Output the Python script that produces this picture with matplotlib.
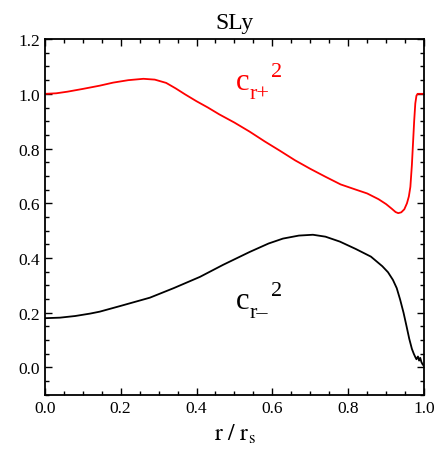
import numpy as np
import matplotlib
matplotlib.use('Agg')
import matplotlib.pyplot as plt
from matplotlib.ticker import MultipleLocator, FormatStrFormatter

# ===== DATA =====
r_plus = [0.00, 0.03, 0.06, 0.10, 0.145, 0.18, 0.22, 0.26, 0.29, 0.32, 0.345,
          0.37, 0.40, 0.43, 0.46, 0.50, 0.54, 0.58, 0.62, 0.66, 0.70, 0.74,
          0.78, 0.82, 0.85, 0.88, 0.90, 0.915, 0.925, 0.932, 0.940, 0.948,
          0.955, 0.960, 0.964, 0.968, 0.971, 0.974, 0.977, 0.980, 0.983, 1.00]
c2_plus = [1.000, 1.002, 1.008, 1.018, 1.030, 1.041, 1.050, 1.055, 1.052, 1.040, 1.020,
           0.998, 0.973, 0.950, 0.925, 0.895, 0.862, 0.826, 0.792, 0.757, 0.726, 0.697,
           0.669, 0.650, 0.636, 0.615, 0.597, 0.580, 0.568, 0.564, 0.567, 0.578,
           0.600, 0.625, 0.660, 0.740, 0.820, 0.900, 0.965, 0.993, 1.000, 1.000]

r_minus = [0.00, 0.04, 0.08, 0.12, 0.145, 0.20, 0.277, 0.34, 0.409, 0.47, 0.54,
           0.59, 0.628, 0.67, 0.707, 0.74, 0.778, 0.82, 0.86, 0.89, 0.905, 0.918,
           0.928, 0.937, 0.946, 0.954, 0.961, 0.968, 0.973, 0.977, 0.980, 0.984,
           0.987, 0.990, 0.993, 0.996, 1.00]
c2_minus = [0.180, 0.182, 0.188, 0.197, 0.204, 0.225, 0.255, 0.290, 0.331, 0.375, 0.422,
            0.453, 0.471, 0.482, 0.485, 0.478, 0.460, 0.433, 0.405, 0.370, 0.348, 0.320,
            0.290, 0.248, 0.200, 0.150, 0.105, 0.068, 0.050, 0.038, 0.030, 0.040,
            0.025, 0.035, 0.020, 0.012, 0.005]

title_text = "SLy"
xlabel_text = r"$\mathrm{r\ /\ r_s}$"
# (main, subscript, superscript, anchor x, anchor y, colour)
curve_labels = [("c", "r+", "2", 0.504, 1.018, "red"),
                ("c", "r\u2013", "2", 0.504, 0.218, "black")]

# ===== STYLE =====
plt.rcParams['font.family'] = 'serif'
plt.rcParams['font.serif'] = ['Liberation Serif', 'DejaVu Serif']
plt.rcParams['mathtext.fontset'] = 'stix'

fig = plt.figure(figsize=(4.44, 4.56), dpi=100)
ax = fig.add_axes([0.101, 0.132, 0.854, 0.780])

ax.plot(r_plus, c2_plus, color='red', lw=1.3)
ax.plot(r_minus, c2_minus, color='black', lw=1.3)

# labels built from pieces so the exponent sits after the subscript
for main, sub, sup, lx, ly, col in curve_labels:
    ax.annotate(main, (lx, ly), xycoords='data', color=col, fontsize=22,
                ha='left', va='baseline')
    ax.annotate(sub, (lx, ly), xycoords='data', xytext=(9.5, -6.5), textcoords='offset points',
                color=col, fontsize=16, ha='left', va='baseline')
    ax.annotate(sup, (lx, ly), xycoords='data', xytext=(25, 9), textcoords='offset points',
                color=col, fontsize=16, ha='left', va='baseline')

ax.set_xlim(0, 1)
ax.set_ylim(-0.1, 1.2)
ax.xaxis.set_major_locator(MultipleLocator(0.2))
ax.xaxis.set_minor_locator(MultipleLocator(0.05))
ax.yaxis.set_major_locator(MultipleLocator(0.2))
ax.yaxis.set_minor_locator(MultipleLocator(0.05))
ax.xaxis.set_major_formatter(FormatStrFormatter('%.1f'))
ax.yaxis.set_major_formatter(FormatStrFormatter('%.1f'))
ax.tick_params(which='both', direction='in', top=True, right=True, labelsize=12.5)
ax.tick_params(which='major', length=5, width=1)
ax.tick_params(which='minor', length=3, width=1)
for s in ax.spines.values():
    s.set_linewidth(1.3)

ax.set_title(title_text, fontsize=17, pad=8)
ax.set_xlabel(xlabel_text, fontsize=17, labelpad=4)

fig.savefig('out.png', dpi=100)
